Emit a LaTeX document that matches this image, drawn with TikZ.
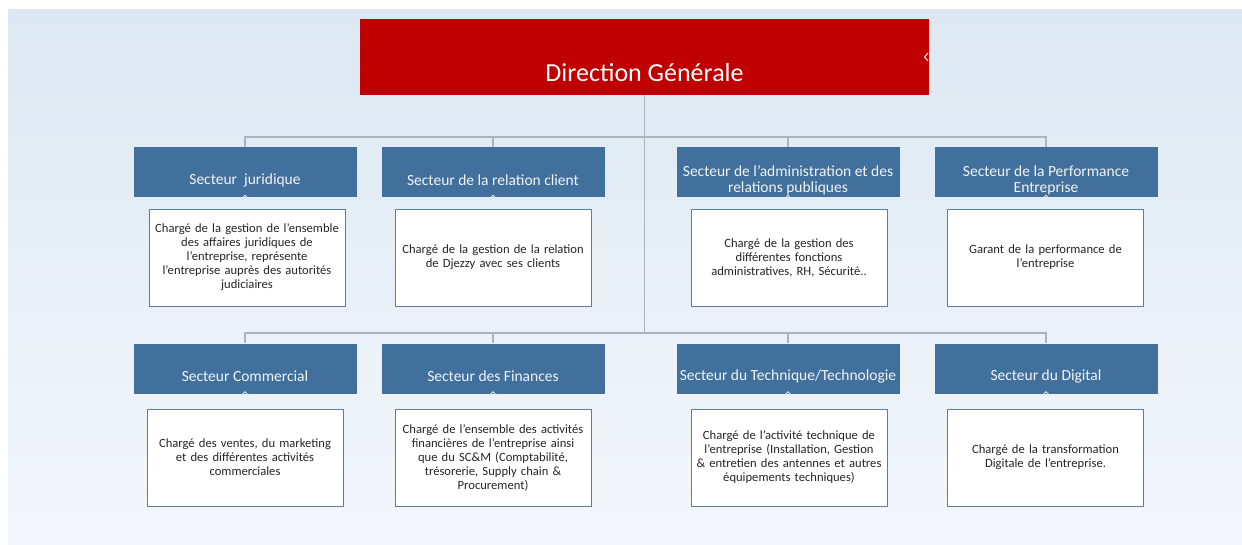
\documentclass[tikz,border=0pt]{standalone}
\usepackage{fontspec}
\setmainfont{Carlito}
\usepackage{tikz}
\usetikzlibrary{positioning}

\definecolor{dgred}{HTML}{C00000}
\definecolor{hdrblue}{HTML}{41709C}
\definecolor{busgray}{HTML}{A9B4BF}
\definecolor{boxedge}{HTML}{5F7D99}
\definecolor{bgtop}{HTML}{DCE8F3}
\definecolor{bgbot}{HTML}{F4F7FB}
\definecolor{bodytxt}{HTML}{262626}

\tikzset{
  direction/.style={fill=dgred, minimum width=569pt, minimum height=76pt, inner sep=0pt},
  hdr/.style={fill=hdrblue, minimum width=223pt, minimum height=50pt, inner sep=0pt},
  hdrtxt/.style={text=white!92!hdrblue, align=center, yshift=-8pt,
    font=\fontsize{15.5}{16}\selectfont},
  desc/.style={draw=boxedge, line width=0.9pt, fill=white, minimum width=196pt,
    minimum height=97pt, text width=194pt, align=center, inner sep=0pt,
    text=bodytxt, font=\fontsize{12.6}{14}\selectfont},
  bus/.style={draw=busgray, line width=1.2pt},
  caret/.style={draw=white!85!hdrblue, line width=0.9pt}
}

\begin{document}
\begin{tikzpicture}[x=1pt, y=-1pt]
        \useasboundingbox (0,0) rectangle (1242,545);
        % fond
        \shade[top color=bgtop, bottom color=bgbot] (8,10) rectangle (1242,545);

        % direction
        \node[direction, label={[text=white, yshift=-16pt, font=\fontsize{26}{28}\selectfont]center:Direction Générale}] (dg) at (644.5,57) {};
        \draw[white, line width=1pt] (928,53) -- (924.5,57) -- (928,61);

        % bus
        \coordinate (bus1) at (644.5,137);
        \coordinate (bus2) at (644.5,333);

        % secteurs, ligne 1
        \node[hdr, label={[hdrtxt]center:Secteur~ juridique}] (sj) at (245,172) {};
        \node[hdr, label={[hdrtxt]center:Secteur de la relation client}] (rc) at (493,172) {};
        \node[hdr, label={[hdrtxt]center:Secteur de l’administration et des\\relations publiques}] (ap) at (788,172) {};
        \node[hdr, label={[hdrtxt]center:Secteur de la Performance\\Entreprise}] (pe) at (1046,172) {};

        % secteurs, ligne 2
        \node[hdr, label={[hdrtxt]center:Secteur Commercial}] (sc) at (245,368.5) {};
        \node[hdr, label={[hdrtxt]center:Secteur des Finances}] (fi) at (493,368.5) {};
        \node[hdr, label={[hdrtxt]center:Secteur du Technique/Technologie}] (te) at (788,368.5) {};
        \node[hdr, label={[hdrtxt]center:Secteur du Digital}] (di) at (1046,368.5) {};

        % missions
        \node[desc] (dsj) at (247,257.5) {Chargé de la gestion de l’ensemble\\des affaires juridiques de\\l’entreprise, représente\\l’entreprise auprès des autorités\\judiciaires};
        \node[desc] (drc) at (493,257.5) {Chargé de la gestion de la relation\\de Djezzy avec ses clients};
        \node[desc] (dap) at (789,257.5) {Chargé de la gestion des\\différentes fonctions\\administratives, RH, Sécurité..};
        \node[desc] (dpe) at (1045.5,257.5) {Garant de la performance de\\l’entreprise};
        \node[desc] (dsc) at (245,457.5) {Chargé des ventes, du marketing\\et des différentes activités\\commerciales};
        \node[desc] (dfi) at (493,457.5) {Chargé de l’ensemble des activités\\financières de l’entreprise ainsi\\que du SC\&M (Comptabilité,\\trésorerie, Supply chain \&\\Procurement)};
        \node[desc] (dte) at (789,457.5) {Chargé de l’activité technique de\\l’entreprise (Installation, Gestion\\\& entretien des antennes et autres\\équipements techniques)};
        \node[desc] (ddi) at (1045.5,457.5) {Chargé de la transformation\\Digitale de l’entreprise.};

        % liaisons
        \draw[bus] (dg.south) -- (bus2);
        \foreach \n in {sj,rc,ap,pe} \draw[bus] (bus1) -| (\n.north);
        \foreach \n in {sc,fi,te,di} \draw[bus] (bus2) -| (\n.north);

        % repères sous les secteurs
        \foreach \n in {sj,rc,ap,pe,sc,fi,te,di}
          \draw[caret] ([xshift=-4pt,yshift=-2pt]\n.south) -- ([yshift=2pt]\n.south) -- ([xshift=4pt,yshift=-2pt]\n.south);
    \end{tikzpicture}
\end{document}
